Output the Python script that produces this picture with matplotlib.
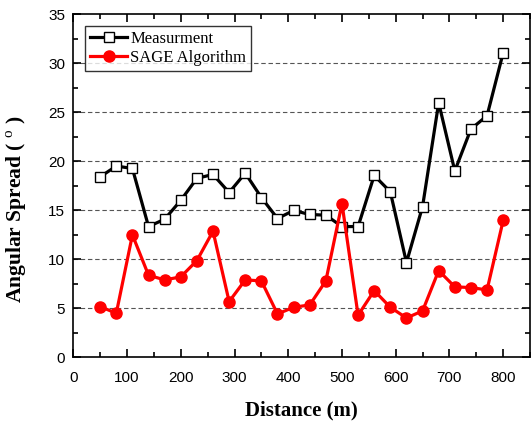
"""Angular spread vs distance: measurement vs SAGE estimate."""

import numpy as np
from matplotlib import pyplot as plt
from matplotlib.ticker import MultipleLocator

distance = [50, 80, 110, 140, 170, 200, 230, 260, 290, 320, 350, 380, 410,
            440, 470, 500, 530, 560, 590, 620, 650, 680, 710, 740, 770, 800]
measurement = [18.4, 19.5, 19.25, 13.33, 14.08, 16.0, 18.25, 18.64, 16.8,
               18.78, 16.29, 14.15, 14.97, 14.56, 14.49, 13.33, 13.33, 18.54,
               16.87, 9.66, 15.37, 25.95, 19.0, 23.27, 24.63, 31.05]
sage = [5.17, 4.49, 12.48, 8.37, 7.89, 8.2, 9.86, 12.86, 5.68, 7.89, 7.79,
        4.42, 5.1, 5.34, 7.79, 15.68, 4.29, 6.8, 5.1, 4.01, 4.73, 8.84, 7.18,
        7.11, 6.87, 13.95]

plt.rcParams["mathtext.fontset"] = "custom"
plt.rcParams["mathtext.rm"] = "Liberation Serif"

fig = plt.figure(figsize=(5.32, 4.21), dpi=100)
ax = fig.add_axes([0.1378, 0.1513, 0.8585, 0.8154])

ax.plot(distance, measurement, color="black", lw=2.3, marker="s", ms=7.5,
        mfc="white", mec="black", mew=1.0, label="Measurment", zorder=3)
ax.plot(distance, sage, color="red", lw=2.3, marker="o", ms=8,
        mfc="red", mec="red", label="SAGE Algorithm", zorder=3)

ax.set_xlim(0, 850)
ax.set_ylim(0, 35)
ax.xaxis.set_major_locator(MultipleLocator(100))
ax.xaxis.set_minor_locator(MultipleLocator(50))
ax.yaxis.set_major_locator(MultipleLocator(5))
ax.yaxis.set_minor_locator(MultipleLocator(2.5))
ax.tick_params(which="both", direction="in", top=True, right=True,
               labelsize=11, labelfontfamily="Liberation Sans", width=1.2)
ax.tick_params(which="major", length=6)
ax.tick_params(which="minor", length=3.5)
ax.tick_params(axis="x", which="major", pad=10)
ax.tick_params(axis="y", which="major", pad=6)
for s in ax.spines.values():
    s.set_linewidth(1.2)

for yv in range(5, 35, 5):
    ax.axhline(yv, color="#555555", lw=0.8, ls=(0, (4, 2.5)), zorder=1)

ax.set_xlabel("Distance (m)", family="Liberation Serif", weight="bold",
              fontsize=15, labelpad=11)
ax.set_ylabel(r"Angular Spread ( $^{\mathrm{o}}$ )", family="Liberation Serif",
              weight="bold", fontsize=15.5)
ax.yaxis.set_label_coords(-0.097, 0.43)

leg = ax.legend(loc="upper left", bbox_to_anchor=(0.026, 0.966),
                prop={"family": "Liberation Serif", "size": 12},
                fancybox=False, frameon=True, edgecolor="black",
                handlelength=2.2, handletextpad=0.2, borderpad=0.3,
                labelspacing=0.2, borderaxespad=0)
leg.get_frame().set_linewidth(1.0)

fig.savefig("out.png", dpi=100)
